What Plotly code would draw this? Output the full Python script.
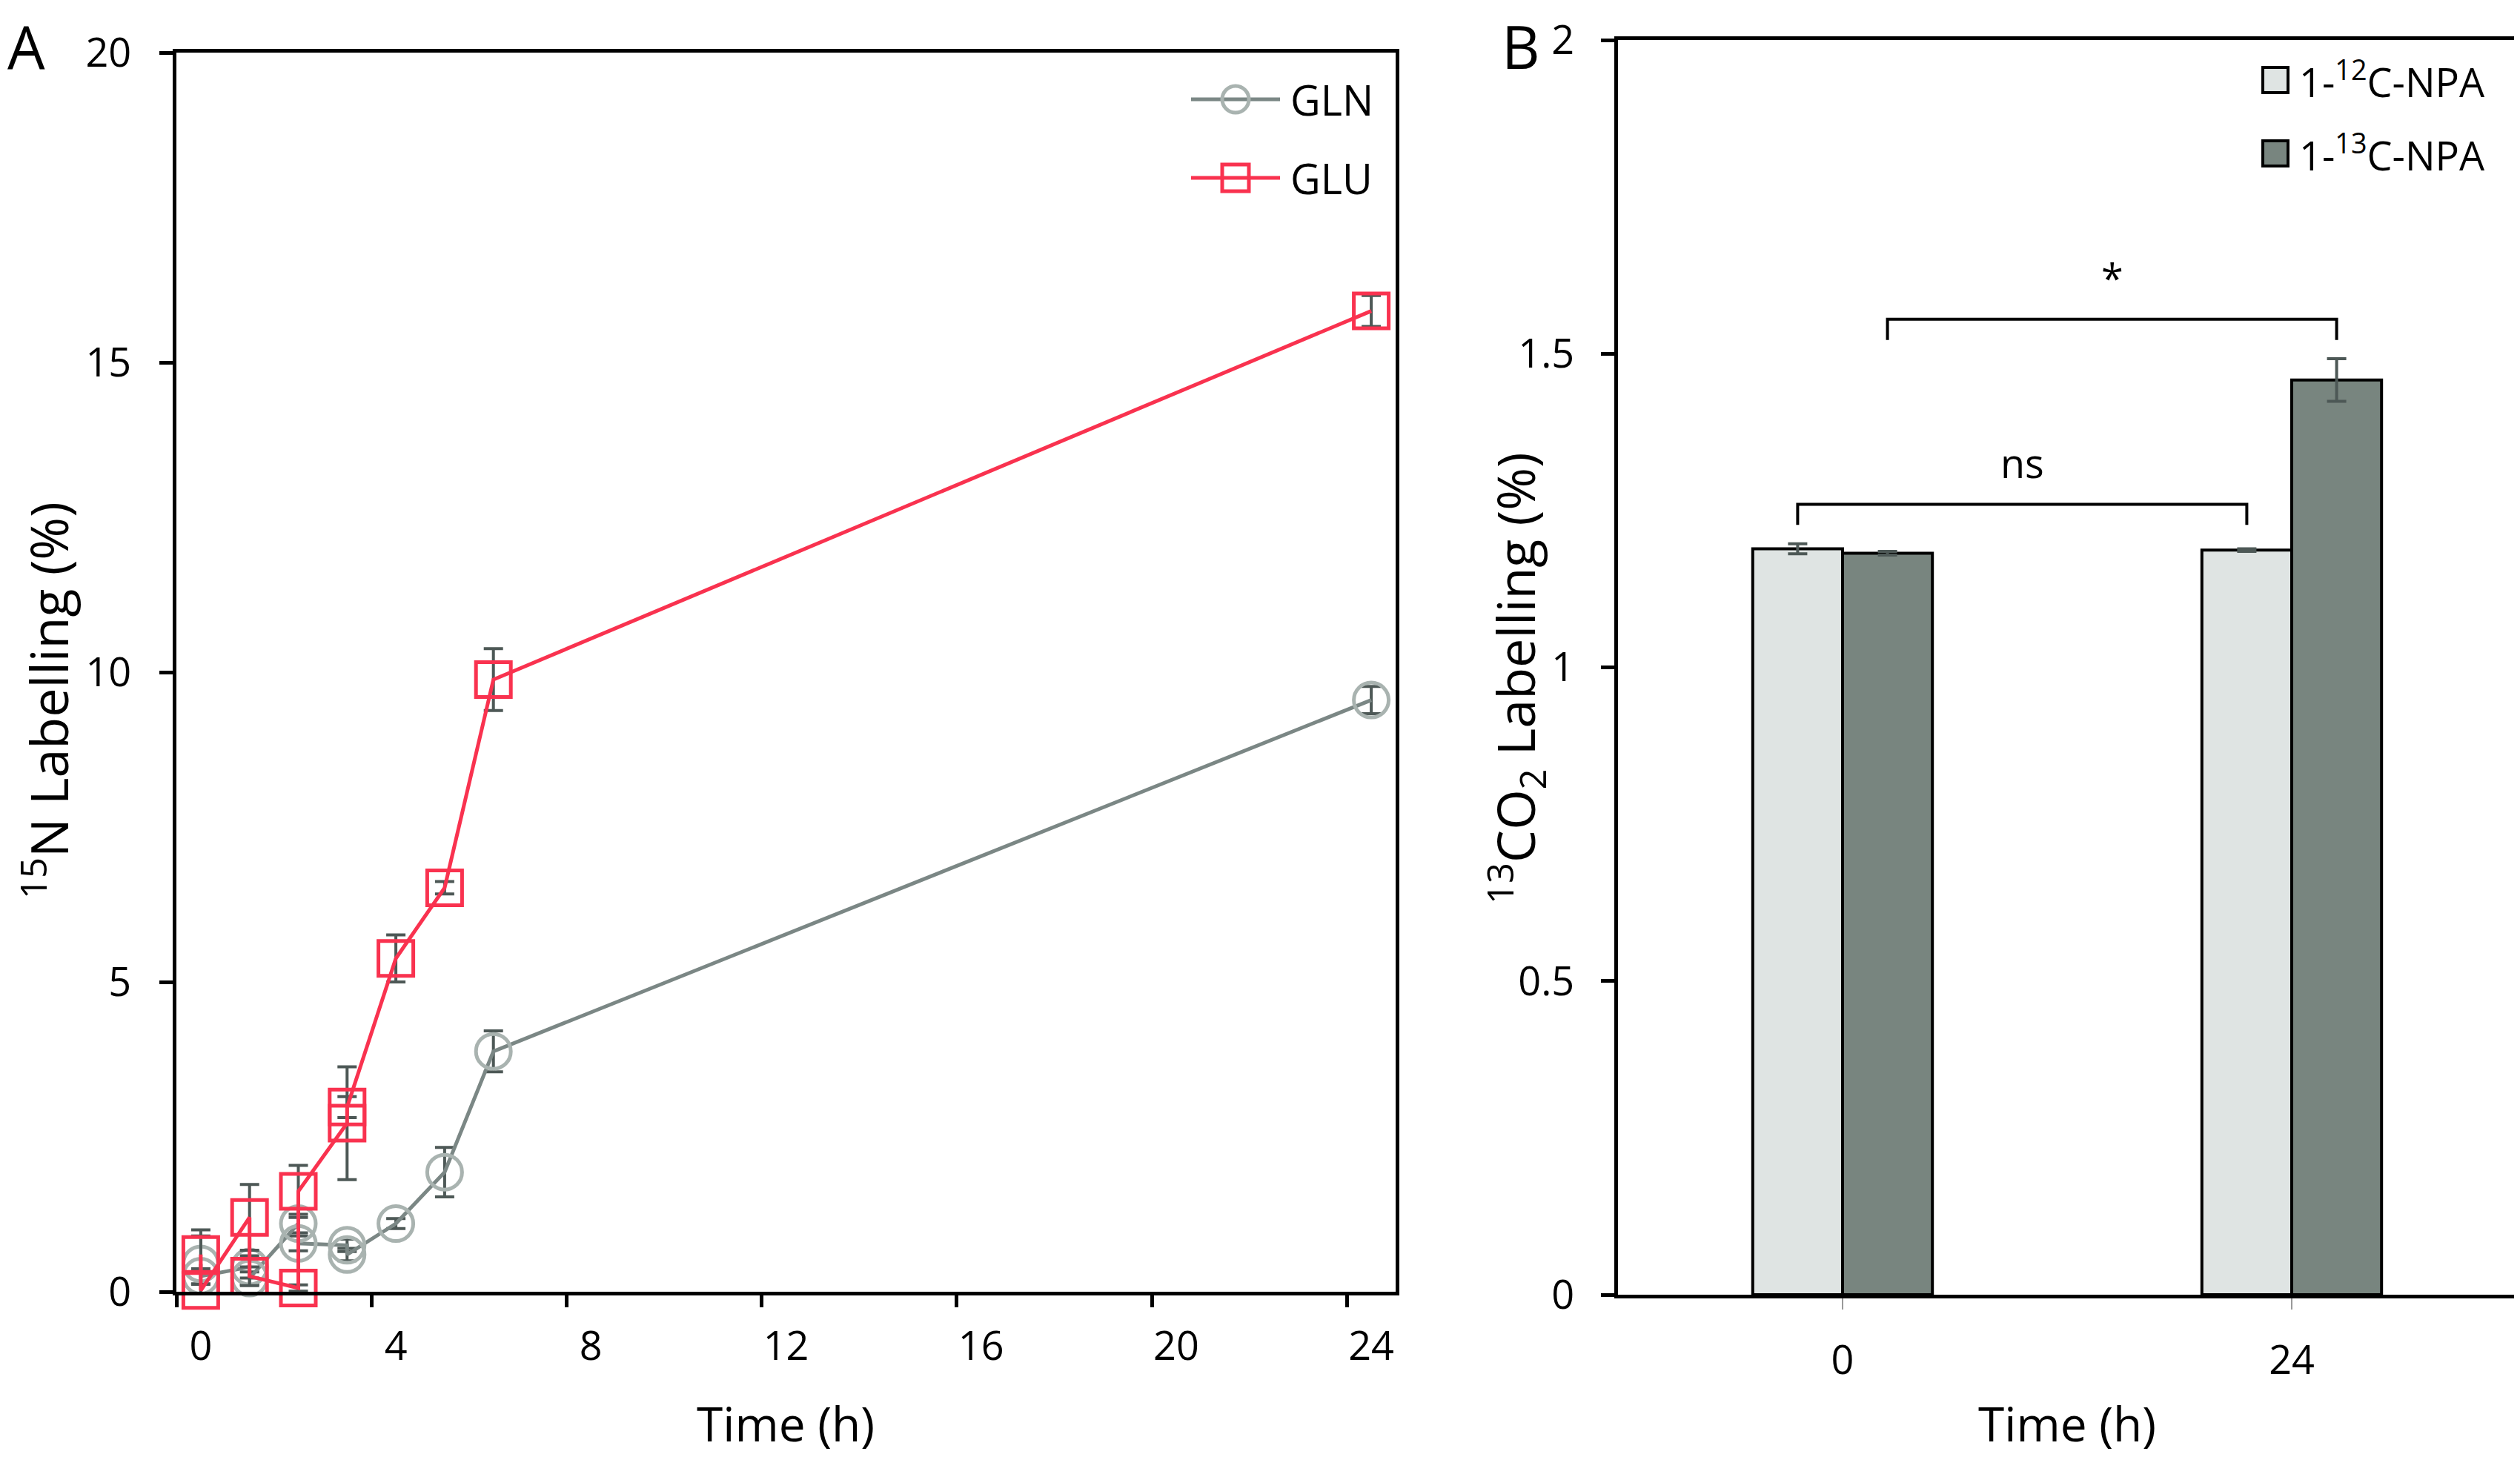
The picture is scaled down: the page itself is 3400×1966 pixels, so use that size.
import plotly.graph_objects as go

# panel A: 15N labelling time course (duplicate time points are plotted in order)
time_h = [0, 0, 1, 1, 2, 2, 3, 3, 4, 5, 6, 24]
gln = [0.45, 0.25, 0.4, 0.22, 1.1, 0.78, 0.75, 0.6, 1.1, 1.93, 3.88, 9.55]
gln_err = [0.55, 0.12, 0.18, 0.1, 0.15, 0.12, 0.1, 0.1, 0.08, 0.4, 0.33, 0.22]
glu = [0.6, 0.02, 1.2, 0.25, 0.06, 1.62, 2.72, 2.98, 5.38, 6.52, 9.88, 15.83]
glu_err = [0.3, 0.1, 0.53, 0.15, 0.05, 0.42, 0.91, 0.17, 0.38, 0.1, 0.5, 0.25]

# panel B: 13CO2 labelling
times_b = ["0", "24"]
npa12 = [1.189, 1.187]
npa12_err = [0.008, 0.002]
npa13 = [1.182, 1.458]
npa13_err = [0.003, 0.034]

# significance brackets: (series, label) comparing time 0 vs 24
brackets = [("npa12", "ns"), ("npa13", "*")]

FONT = "Open Sans"
RED = "#f9324f"
GREY_LINE = "#7b8785"
GREY_MARK = "#a9b3b0"
ERR = "#4d5856"
LIGHT = "#dfe4e3"
DARK = "#78857f"

# the page puts the figure 8px in from the corner, so shrink it to fit the window
PAD = 8
W, H = 3400 - PAD, 1966 - PAD


def px_x(v):
    return (v - PAD) / W


def px_y(v):
    return 1 - (v - PAD) / H


fig = go.Figure()

series_a = [
    ("GLN", gln, gln_err, GREY_LINE, GREY_MARK, "circle"),
    ("GLU", glu, glu_err, RED, RED, "square"),
]
for name, vals, errs, lcol, mcol, sym in series_a:
    fig.add_trace(go.Scatter(
        x=time_h, y=vals, name=name, mode="lines+markers",
        line=dict(color=lcol, width=5),
        marker=dict(symbol=sym + "-open", size=47, color=mcol, line=dict(width=5)),
        error_y=dict(type="data", array=errs, color=ERR, thickness=4, width=13),
        cliponaxis=False, xaxis="x", yaxis="y",
    ))

xb = list(range(len(times_b)))
series_b = {
    "npa12": (npa12, npa12_err, LIGHT, "1-<sup>12</sup>C-NPA"),
    "npa13": (npa13, npa13_err, DARK, "1-<sup>13</sup>C-NPA"),
}
bargap = 0.6
bar_w = (1 - bargap) / len(series_b)
offsets = {}
for i, (key, (vals, errs, col, label)) in enumerate(series_b.items()):
    offsets[key] = (i - (len(series_b) - 1) / 2) * bar_w
    fig.add_trace(go.Bar(
        x=xb, y=vals, name=label,
        marker=dict(color=col, line=dict(color="black", width=4)),
        error_y=dict(type="data", array=errs, color=ERR, thickness=4, width=13),
        xaxis="x2", yaxis="y2",
    ))

shapes = []
annotations = []
for key, text in brackets:
    vals, errs, _, _ = series_b[key]
    y_end = max(v + e for v, e in zip(vals, errs)) + 0.03
    y_top = y_end + 0.033
    x0 = xb[0] + offsets[key]
    x1 = xb[-1] + offsets[key]
    shapes.append(dict(
        type="path", xref="x2", yref="y2",
        path=f"M {x0},{y_end} L {x0},{y_top} L {x1},{y_top} L {x1},{y_end}",
        line=dict(color="black", width=4),
    ))
    annotations.append(dict(
        x=(x0 + x1) / 2, y=y_top + 0.02, xref="x2", yref="y2", text=text,
        showarrow=False, yanchor="bottom", font=dict(size=54, color="black", family=FONT),
    ))

# hand-drawn legends (plotly caps legend symbol size)
leg_a_x, leg_a_y, leg_a_step = 1667, 134, 106
for i, (name, _, _, lcol, mcol, sym) in enumerate(series_a):
    cy = leg_a_y + i * leg_a_step
    shapes.append(dict(type="line", xref="paper", yref="paper",
                       x0=px_x(leg_a_x - 60), x1=px_x(leg_a_x + 60), y0=px_y(cy), y1=px_y(cy),
                       line=dict(color=lcol, width=5)))
    shapes.append(dict(type="circle" if sym == "circle" else "rect", xref="paper", yref="paper",
                       x0=px_x(leg_a_x - 18), x1=px_x(leg_a_x + 18),
                       y0=px_y(cy - 18), y1=px_y(cy + 18),
                       line=dict(color=mcol, width=5), fillcolor="rgba(0,0,0,0)"))
    annotations.append(dict(text=name, x=px_x(leg_a_x + 72), y=px_y(cy), xref="paper",
                            yref="paper", showarrow=False, xanchor="left", yanchor="middle",
                            font=dict(size=56, color="black", family=FONT)))

leg_b_x, leg_b_y, leg_b_step = 3070, 108, 99
for i, (key, (_, _, col, label)) in enumerate(series_b.items()):
    cy = leg_b_y + i * leg_b_step
    shapes.append(dict(type="rect", xref="paper", yref="paper",
                       x0=px_x(leg_b_x - 17), x1=px_x(leg_b_x + 17),
                       y0=px_y(cy - 17), y1=px_y(cy + 17),
                       line=dict(color="black", width=4), fillcolor=col))
    annotations.append(dict(text=label, x=px_x(leg_b_x + 30), y=px_y(cy), xref="paper",
                            yref="paper", showarrow=False, xanchor="left", yanchor="middle",
                            font=dict(size=54, color="black", family=FONT)))

title_font = dict(size=64, color="black", family=FONT)
ytitle_font = dict(size=70, color="black", family=FONT)
annotations += [
    dict(text="A", x=px_x(8), y=px_y(62), xref="paper", yref="paper", showarrow=False,
         xanchor="left", yanchor="middle", font=dict(size=80, color="black", family=FONT)),
    dict(text="B", x=px_x(2024), y=px_y(62), xref="paper", yref="paper", showarrow=False,
         xanchor="left", yanchor="middle", font=dict(size=80, color="black", family=FONT)),
    dict(text="<sup>15</sup>N Labelling (%)", x=px_x(62), y=px_y(945), xref="paper",
         yref="paper", showarrow=False, textangle=-90, xanchor="center", yanchor="middle",
         font=ytitle_font),
    dict(text="<sup>13</sup>CO<sub>2</sub> Labelling (%)", x=px_x(2045), y=px_y(915),
         xref="paper", yref="paper", showarrow=False, textangle=-90, xanchor="center",
         yanchor="middle", font=ytitle_font),
    dict(text="Time (h)", x=px_x(1060), y=px_y(1920), xref="paper", yref="paper",
         showarrow=False, xanchor="center", yanchor="middle", font=title_font),
    dict(text="Time (h)", x=px_x(2789), y=px_y(1920), xref="paper", yref="paper",
         showarrow=False, xanchor="center", yanchor="middle", font=title_font),
]

axis_common = dict(showline=True, linecolor="black", linewidth=5, mirror=True,
                   showgrid=False, zeroline=False, automargin=False,
                   tickfont=dict(size=54, color="black", family=FONT))

fig.update_layout(
    width=W, height=H,
    paper_bgcolor="white", plot_bgcolor="white",
    margin=dict(l=0, r=0, t=0, b=0),
    font=dict(family=FONT, color="black"),
    showlegend=False,
    barmode="group", bargap=bargap, bargroupgap=0,
    xaxis=dict(domain=[px_x(238), px_x(1883)], anchor="y", range=[-0.5, 24.5],
               tickvals=[0, 4, 8, 12, 16, 20, 24], ticks="", ticklabelstandoff=22,
               minor=dict(tick0=-0.5, dtick=4, ticks="outside", ticklen=16,
                          tickwidth=5, tickcolor="black"),
               **axis_common),
    yaxis=dict(domain=[px_y(1743), px_y(71)], anchor="x", range=[0, 20],
               tickvals=[0, 5, 10, 15, 20], ticks="outside", ticklen=18, tickwidth=5,
               tickcolor="black", ticklabelstandoff=27, **axis_common),
    xaxis2=dict(domain=[px_x(2183), px_x(3395)], anchor="y2", range=[-0.5, 1.5],
                tickvals=xb, ticktext=times_b, ticks="outside", ticklen=15, tickwidth=1.5,
                tickcolor="#999999", ticklabelstandoff=22, **axis_common),
    yaxis2=dict(domain=[px_y(1747), px_y(54)], anchor="x2", range=[0, 2],
                tickvals=[0, 0.5, 1, 1.5, 2], ticktext=["0", "0.5", "1", "1.5", "2"],
                ticks="outside", ticklen=18, tickwidth=5, tickcolor="black",
                ticklabelstandoff=25, **axis_common),
    shapes=shapes,
    annotations=annotations,
)

fig.write_html("out.html")
